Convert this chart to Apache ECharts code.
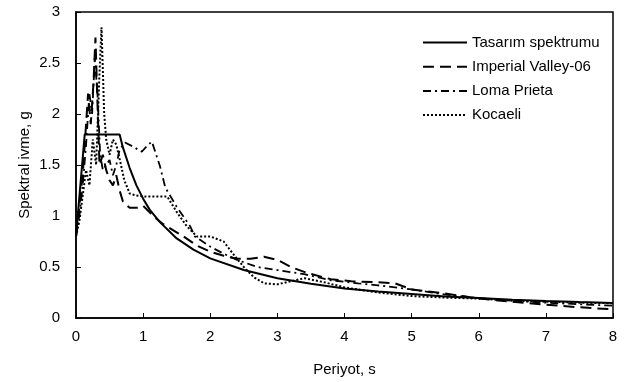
<!DOCTYPE html>
<html>
<head>
<meta charset="utf-8">
<script src="https://cdn.jsdelivr.net/npm/echarts@6/dist/echarts.min.js"></script>
<style>
  html, body { margin: 0; padding: 0; background: #fff; }
  #chart { width: 627px; height: 382px; }
</style>
</head>
<body>
<div id="chart"></div>
<script>
// periods (s) and spectral accelerations (g)
const designT = [0, 0.13, 0.65, 0.7, 0.8, 0.9, 1, 1.1, 1.25, 1.5, 1.75, 2, 2.5, 3, 3.5, 4, 4.5, 5, 5.5, 6, 6.5, 7, 7.5, 8];
const designSa = [0.8, 1.8, 1.8, 1.67, 1.47, 1.3, 1.17, 1.06, 0.94, 0.78, 0.67, 0.585, 0.47, 0.39, 0.335, 0.29, 0.26, 0.235, 0.21, 0.195, 0.18, 0.167, 0.156, 0.146];

const imperialT = [0, 0.05, 0.1, 0.15, 0.18, 0.22, 0.26, 0.29, 0.32, 0.35, 0.4, 0.45, 0.5, 0.55, 0.6, 0.65, 0.7, 0.8, 0.9, 1.0, 1.15, 1.3, 1.45, 1.6, 1.8, 2.0, 2.2, 2.4, 2.6, 2.8, 3.0, 3.2, 3.45, 3.8, 4.1, 4.5, 4.75, 5.0, 5.5, 6.0, 6.5, 7.0, 7.5, 8.0];
const imperialSa = [0.8, 1.1, 1.4, 1.9, 2.2, 1.9, 2.3, 2.75, 2.1, 1.5, 1.6, 1.45, 1.35, 1.3, 1.4, 1.25, 1.14, 1.08, 1.08, 1.1, 1.0, 0.92, 0.86, 0.8, 0.71, 0.65, 0.61, 0.58, 0.58, 0.6, 0.57, 0.5, 0.44, 0.38, 0.36, 0.35, 0.34, 0.28, 0.24, 0.19, 0.16, 0.13, 0.105, 0.085];

const lomaT = [0, 0.05, 0.1, 0.15, 0.2, 0.24, 0.28, 0.32, 0.36, 0.4, 0.45, 0.5, 0.55, 0.6, 0.65, 0.73, 0.85, 0.98, 1.05, 1.13, 1.25, 1.33, 1.5, 1.7, 1.77, 2.0, 2.2, 2.4, 2.7, 3.0, 3.4, 3.8, 4.2, 4.5, 5.0, 5.5, 6.0, 6.5, 7.0, 7.5, 8.0];
const lomaSa = [0.8, 1.0, 1.3, 1.7, 2.2, 2.0, 2.55, 2.2, 1.6, 1.45, 1.5, 1.55, 1.4, 1.5, 1.65, 1.72, 1.68, 1.63, 1.68, 1.73, 1.49, 1.28, 1.09, 0.9, 0.8, 0.7, 0.63, 0.57, 0.5, 0.47, 0.43, 0.37, 0.34, 0.32, 0.28, 0.23, 0.195, 0.17, 0.15, 0.135, 0.12];

const kocaeliT = [0, 0.05, 0.1, 0.15, 0.2, 0.25, 0.3, 0.35, 0.38, 0.42, 0.45, 0.5, 0.55, 0.6, 0.66, 0.72, 0.8, 0.9, 1.03, 1.2, 1.36, 1.5, 1.65, 1.8, 2.0, 2.2, 2.35, 2.5, 2.65, 2.8, 3.0, 3.2, 3.4, 3.7, 4.0, 4.5, 5.0, 5.5, 6.0, 6.5, 7.0, 7.5, 8.0];
const kocaeliSa = [0.8, 0.95, 1.2, 1.45, 1.3, 1.75, 1.5, 2.4, 2.85, 2.0, 1.75, 1.6, 1.75, 1.7, 1.53, 1.35, 1.22, 1.2, 1.19, 1.19, 1.19, 1.04, 0.9, 0.8, 0.8, 0.75, 0.62, 0.5, 0.4, 0.34, 0.33, 0.36, 0.39, 0.35, 0.3, 0.25, 0.215, 0.2, 0.19, 0.17, 0.16, 0.15, 0.145];

const seriesNames = ['Tasarım spektrumu', 'Imperial Valley-06', 'Loma Prieta', 'Kocaeli'];

const pairs = (xs, ys) => xs.map((x, i) => [x, ys[i]]);

const font = '"Liberation Sans", Arial, sans-serif';

function lineSeries(name, data, type, width) {
  return {
    name: name,
    type: 'line',
    data: data,
    symbol: 'none',
    showSymbol: false,
    animation: false,
    lineStyle: { color: '#000', width: width, type: type },
    itemStyle: { color: '#000' }
  };
}

const chart = echarts.init(document.getElementById('chart'));
chart.setOption({
  backgroundColor: '#fff',
  animation: false,
  grid: {
    left: 76, right: 14, top: 12, bottom: 62,
    show: true, borderColor: '#000', borderWidth: 1.5
  },
  legend: {
    left: 417, top: 30,
    orient: 'vertical',
    itemWidth: 44, itemHeight: 14, itemGap: 9.2,
    itemStyle: { opacity: 0 },
    textStyle: { fontFamily: font, fontSize: 15, color: '#000' },
    data: seriesNames
  },
  xAxis: {
    type: 'value', min: 0, max: 8, interval: 1,
    name: 'Periyot, s', nameLocation: 'middle', nameGap: 44,
    nameMoveOverlap: false,
    nameTextStyle: { fontFamily: font, fontSize: 15, color: '#000' },
    axisLine: { lineStyle: { color: '#000', width: 1.5 } },
    axisTick: { inside: true, length: 5, lineStyle: { color: '#000' } },
    axisLabel: { fontFamily: font, fontSize: 15, color: '#000', margin: 11 },
    splitLine: { show: false }
  },
  yAxis: {
    type: 'value', min: 0, max: 3, interval: 0.5,
    name: 'Spektral ivme, g', nameLocation: 'middle', nameGap: 44,
    nameMoveOverlap: false,
    nameTextStyle: { fontFamily: font, fontSize: 15, color: '#000' },
    axisLine: { show: true, lineStyle: { color: '#000', width: 1.5 } },
    axisTick: { show: true, inside: true, length: 5, lineStyle: { color: '#000' } },
    axisLabel: { fontFamily: font, fontSize: 15, color: '#000', margin: 16 },
    splitLine: { show: false }
  },
  series: [
    lineSeries(seriesNames[0], pairs(designT, designSa), 'solid', 2),
    lineSeries(seriesNames[1], pairs(imperialT, imperialSa), [11, 6], 2),
    lineSeries(seriesNames[2], pairs(lomaT, lomaSa), [8, 4, 2, 4], 1.8),
    lineSeries(seriesNames[3], pairs(kocaeliT, kocaeliSa), [2, 2], 2)
  ]
});
</script>
</body>
</html>
